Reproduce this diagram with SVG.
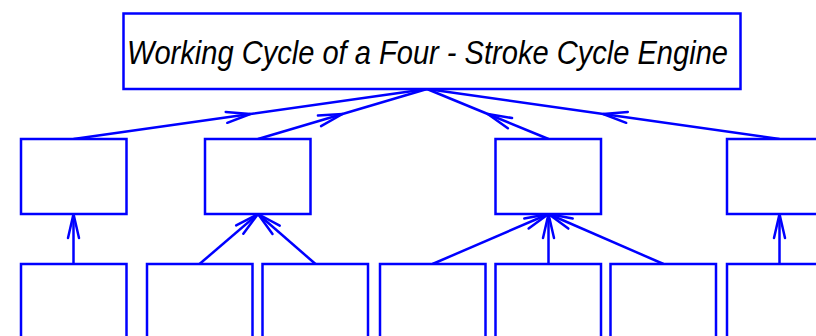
<svg xmlns="http://www.w3.org/2000/svg" width="816" height="336" viewBox="0 0 816 336">
<defs>
<style>
.box{fill:#fff;stroke:#0000ff;stroke-width:2.5}
.edge{fill:none;stroke:#0000ff;stroke-width:2.5}
.title{font-family:"Liberation Sans",Arial,sans-serif;font-style:italic;font-size:34px;fill:#000}
</style>
<marker id="chev" markerUnits="userSpaceOnUse" markerWidth="40" markerHeight="20" refX="0" refY="0" viewBox="-30 -10 40 20" orient="auto" overflow="visible">
<path d="M-24,-5.5 L0,0 L-24,5.5" fill="none" stroke="#0000ff" stroke-width="2.5" stroke-linecap="round" stroke-linejoin="round"/>
</marker>
</defs>
<rect width="816" height="336" fill="#fff"/>
<g id="connectors">
<polyline class="edge" points="73.5,139 250.25,114 427,89" marker-mid="url(#chev)"/>
<polyline class="edge" points="258,139 342.5,114 427,89" marker-mid="url(#chev)"/>
<polyline class="edge" points="548.5,139 487.75,114 427,89" marker-mid="url(#chev)"/>
<polyline class="edge" points="779.5,139 603.25,114 427,89" marker-mid="url(#chev)"/>
<line class="edge" x1="73.5" y1="264" x2="73.5" y2="214" marker-end="url(#chev)"/>
<line class="edge" x1="199.5" y1="264" x2="258" y2="214" marker-end="url(#chev)"/>
<line class="edge" x1="315.5" y1="264" x2="258" y2="214" marker-end="url(#chev)"/>
<line class="edge" x1="432.5" y1="264" x2="548.5" y2="214" marker-end="url(#chev)"/>
<line class="edge" x1="548.5" y1="264" x2="548.5" y2="214" marker-end="url(#chev)"/>
<line class="edge" x1="663.5" y1="264" x2="548.5" y2="214" marker-end="url(#chev)"/>
<line class="edge" x1="779.5" y1="264" x2="779.5" y2="214" marker-end="url(#chev)"/>
</g>
<g id="title">
<rect class="box" x="123.5" y="13.5" width="617" height="75.5"/>
<text class="title" x="127" y="63.5" textLength="601" lengthAdjust="spacingAndGlyphs">Working Cycle of a Four - Stroke Cycle Engine</text>
</g>
<g id="n1"><rect class="box" x="21" y="139" width="105.5" height="75"/></g>
<g id="n2"><rect class="box" x="205" y="139" width="105.5" height="75"/></g>
<g id="n3"><rect class="box" x="495.5" y="139" width="105.5" height="75"/></g>
<g id="n4"><rect class="box" x="727" y="139" width="105.5" height="75"/></g>
<g id="n5"><rect class="box" x="21" y="264" width="105.5" height="75"/></g>
<g id="n6"><rect class="box" x="147" y="264" width="105.5" height="75"/></g>
<g id="n7"><rect class="box" x="262.5" y="264" width="105.5" height="75"/></g>
<g id="n8"><rect class="box" x="380" y="264" width="105.5" height="75"/></g>
<g id="n9"><rect class="box" x="495.5" y="264" width="105.5" height="75"/></g>
<g id="n10"><rect class="box" x="610.5" y="264" width="105.5" height="75"/></g>
<g id="n11"><rect class="box" x="727" y="264" width="105.5" height="75"/></g>
</svg>
